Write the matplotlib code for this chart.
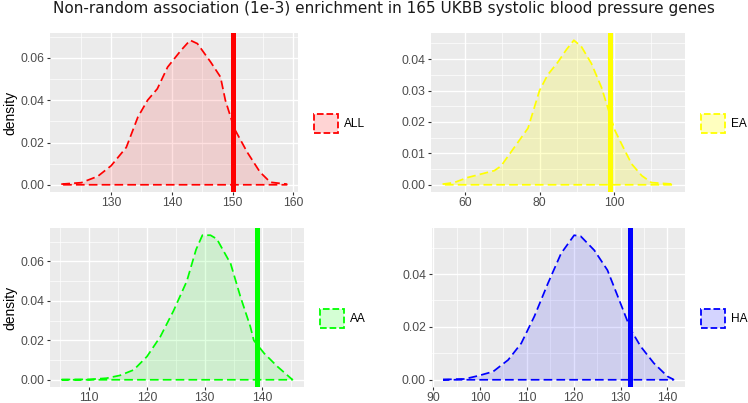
import matplotlib
matplotlib.use("Agg")
import matplotlib.pyplot as plt
from matplotlib.patches import Patch
import numpy as np

# density curves (x = genes, y = density)
all_x = [121.8, 125.1, 127.8, 130.0, 132.5, 134.4, 136.0, 137.6, 139.3, 141.5, 143.0,
         144.2, 146.4, 148.0, 148.8, 149.9, 150.2, 152.4, 154.5, 156.2, 158.9]
all_y = [0.0003, 0.001, 0.004, 0.009, 0.0177, 0.032, 0.040, 0.0454, 0.0557, 0.0636, 0.0684,
         0.0668, 0.058, 0.051, 0.040, 0.030, 0.027, 0.0154, 0.006, 0.0012, 0.0003]

ea_x = [54.0, 57.1, 60.7, 64.3, 67.9, 69.7, 73.3, 76.9, 80.0, 82.2, 84.9, 87.2,
        89.2, 91.2, 93.9, 96.6, 98.8, 100.2, 102.4, 104.7, 107.4, 110.0, 115.9]
ea_y = [0.0002, 0.0007, 0.0023, 0.0034, 0.0045, 0.006, 0.012, 0.018, 0.030, 0.035, 0.039, 0.043,
        0.046, 0.044, 0.0386, 0.031, 0.0226, 0.0173, 0.012, 0.0066, 0.0029, 0.0007, 0.0002]

aa_x = [105.2, 110.1, 113.0, 115.3, 117.7, 120.0, 122.3, 124.6, 126.9, 128.5, 129.6,
        131.0, 132.1, 134.5, 136.2, 137.9, 138.5, 140.3, 142.6, 144.9, 145.2]
aa_y = [0.0001, 0.0002, 0.0008, 0.0022, 0.005, 0.0118, 0.0218, 0.035, 0.050, 0.066, 0.0733,
        0.0733, 0.0714, 0.0588, 0.042, 0.027, 0.020, 0.0134, 0.0067, 0.0008, 0.0001]

ha_x = [92.1, 96.7, 99.6, 102.8, 106.0, 108.8, 111.6, 114.5, 117.3, 120.1, 121.5,
        124.4, 127.2, 130.0, 132.2, 134.3, 137.1, 140.0, 141.3]
ha_y = [0.0001, 0.0003, 0.0015, 0.0031, 0.0075, 0.0138, 0.024, 0.0365, 0.0478, 0.0547, 0.0543,
        0.049, 0.0415, 0.0289, 0.0189, 0.0126, 0.0063, 0.0013, 0.0001]

groups = ["ALL", "EA", "AA", "HA"]
observed = [150, 99, 139, 132]
colors = ["#FF0000", "#FFFF00", "#00FF00", "#0000FF"]
x_ticks = [[130, 140, 150, 160], [60, 80, 100], [110, 120, 130, 140], [90, 100, 110, 120, 130, 140]]
y_ticks = [[0.0, 0.02, 0.04, 0.06], [0.0, 0.01, 0.02, 0.03, 0.04],
           [0.0, 0.02, 0.04, 0.06], [0.0, 0.02, 0.04]]
curves = [(all_x, all_y), (ea_x, ea_y), (aa_x, aa_y), (ha_x, ha_y)]

W, H = 748, 403
fig = plt.figure(figsize=(W / 100, H / 100), dpi=100)

# panel boxes in pixels: left, top, right, bottom
boxes = [(50, 33, 298, 192), (431, 33, 685, 192), (50, 228, 304, 387), (431.5, 228, 685, 387)]
fills = [0.12, 0.2, 0.12, 0.12]

for i, (name, obs, col) in enumerate(zip(groups, observed, colors)):
    l, t, r, b = boxes[i]
    ax = fig.add_axes([l / W, 1 - b / H, (r - l) / W, (b - t) / H])
    x, y = curves[i]
    x = np.array(x)
    y = np.array(y)

    ax.set_facecolor("#EBEBEB")
    for s in ax.spines.values():
        s.set_visible(False)

    ax.fill_between(x, 0, y, color=col, alpha=fills[i], lw=0, zorder=2)
    ax.plot(np.r_[x, x[-1], x[0]], np.r_[y, 0, 0], color=col, lw=1.25,
            dashes=(5.0, 2.4), zorder=3)
    ax.axvline(obs, color=col, lw=3.6, zorder=4)

    xt = x_ticks[i]
    yt = y_ticks[i]
    ax.set_xticks(xt)
    ax.set_yticks(yt)
    ax.set_yticklabels([f"{v:.2f}" for v in yt])
    ax.set_xticks([(a + c) / 2 for a, c in zip(xt[:-1], xt[1:])]
                  + [xt[0] - (xt[1] - xt[0]) / 2, xt[-1] + (xt[1] - xt[0]) / 2], minor=True)
    ax.set_yticks([(a + c) / 2 for a, c in zip(yt[:-1], yt[1:])]
                  + [yt[-1] + (yt[1] - yt[0]) / 2], minor=True)

    span = x.max() - x.min()
    ax.set_xlim(x.min() - 0.05 * span, x.max() + 0.05 * span)
    ax.set_ylim(-0.05 * y.max(), 1.05 * y.max())

    ax.grid(True, which="major", color="white", lw=1.0, zorder=1)
    ax.grid(True, which="minor", color="white", lw=0.5, zorder=1)
    ax.set_axisbelow(True)
    ax.tick_params(which="major", length=2.5, width=0.8, color="#333333",
                   labelsize=8.8, labelcolor="#4D4D4D", pad=1.5)
    ax.tick_params(axis="x", which="major", pad=0.8)
    ax.tick_params(which="minor", length=0)
    for lab in ax.get_xticklabels() + ax.get_yticklabels():
        lab.set_family("Liberation Sans")

    if i % 2 == 0:
        ax.set_ylabel("density", fontsize=10, family="Liberation Sans", labelpad=2)

    handle = Patch(edgecolor=col, linestyle="--", lw=1.3,
                   facecolor=matplotlib.colors.to_rgba(col, fills[i] + 0.05))
    ax.legend([handle], [name], loc="center left", bbox_to_anchor=(1.063, 0.43),
              frameon=False, borderpad=0, borderaxespad=0, handlelength=2.0,
              handleheight=2.0, handletextpad=0.55,
              prop={"family": "Liberation Sans", "size": 8.6})

fig.text(0.513, 0.978, "Non-random association (1e-3) enrichment in 165 UKBB systolic blood pressure genes",
         ha="center", va="center", fontsize=11, family="DejaVu Sans", color="#1A1A1A")

fig.savefig("out.png", dpi=100)
